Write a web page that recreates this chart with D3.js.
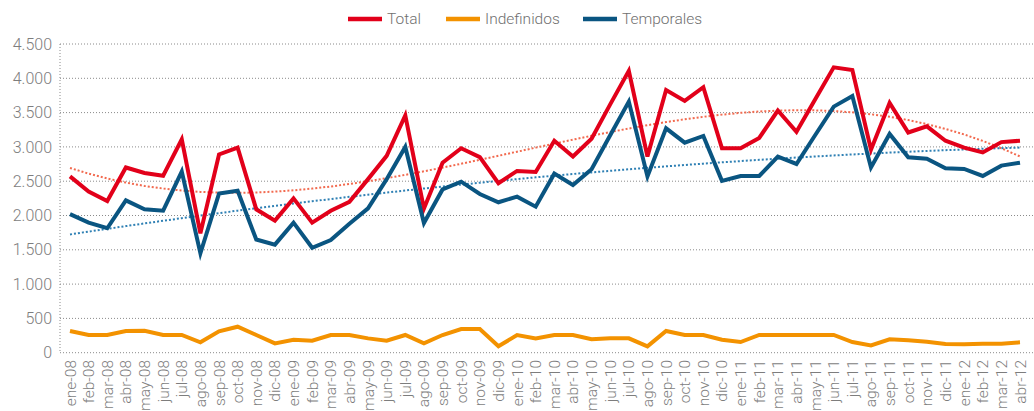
<!DOCTYPE html>
<html>
<head>
<meta charset="utf-8">
<script src="https://cdn.jsdelivr.net/npm/d3@7"></script>
<style>
  body { margin: 0; background: #fff; }
  svg text { font-family: Roboto, "Liberation Sans", sans-serif; font-weight: 300; }
</style>
</head>
<body>
<svg id="chart" width="1034" height="411"></svg>
<script>
// meses ene-08 .. abr-12
var months = [
  "ene-08","feb-08","mar-08","abr-08","may-08","jun-08","jul-08","ago-08","sep-08","oct-08","nov-08","dic-08",
  "ene-09","feb-09","mar-09","abr-09","may-09","jun-09","jul-09","ago-09","sep-09","oct-09","nov-09","dic-09",
  "ene-10","feb-10","mar-10","abr-10","may-10","jun-10","jul-10","ago-10","sep-10","oct-10","nov-10","dic-10",
  "ene-11","feb-11","mar-11","abr-11","may-11","jun-11","jul-11","ago-11","sep-11","oct-11","nov-11","dic-11",
  "ene-12","feb-12","mar-12","abr-12"
];

var total = [
  2570, 2350, 2210, 2700, 2620, 2580, 3110, 1740, 2890, 2990, 2090, 1925,
  2250, 1896, 2070, 2200, 2530, 2870, 3460, 2100, 2770, 2980, 2850, 2470,
  2650, 2635, 3090, 2860, 3120, 3620, 4110, 2860, 3830, 3670, 3870, 2980,
  2980, 3130, 3530, 3220, 3690, 4160, 4120, 2960, 3640, 3210, 3300, 3090,
  2990, 2920, 3070, 3090
];

var indefinidos = [
  316, 258, 258, 316, 321, 258, 258, 151, 311, 379, 258, 136,
  190, 175, 258, 258, 209, 175, 258, 136, 258, 345, 345, 93,
  258, 209, 258, 258, 195, 209, 209, 93, 316, 258, 258, 190,
  156, 258, 258, 258, 258, 258, 156, 107, 195, 180, 160, 126,
  122, 131, 131, 151
];

var temporales = [
  2020, 1896, 1814, 2220, 2090, 2070, 2640, 1450, 2320, 2360, 1650, 1575,
  1896, 1530, 1643, 1880, 2105, 2530, 3000, 1890, 2380, 2493, 2314, 2193,
  2275, 2129, 2610, 2445, 2674, 3170, 3660, 2570, 3271, 3062, 3160, 2505,
  2576, 2576, 2858, 2751, 3170, 3587, 3743, 2700, 3189, 2849, 2829, 2689,
  2678, 2576, 2727, 2770
];

var yTicks = [0, 500, 1000, 1500, 2000, 2500, 3000, 3500, 4000, 4500];

var series = [
  {name: "Total", values: total, color: "#e2001a", trend: 3, trendColor: "#f26a4f"},
  {name: "Indefinidos", values: indefinidos, color: "#f39200", trend: 0},
  {name: "Temporales", values: temporales, color: "#0a5581", trend: 2, trendColor: "#2f80b4"}
];

// least squares polynomial fit (like a spreadsheet trendline)
function polyfit(vals, deg) {
  var n = vals.length, m = deg + 1;
  var A = [], b = [];
  for (var r = 0; r < m; r++) { A.push(new Array(m).fill(0)); b.push(0); }
  vals.forEach(function (v, i) {
    var t = i / (n - 1);
    for (var r = 0; r < m; r++) {
      for (var c = 0; c < m; c++) A[r][c] += Math.pow(t, r + c);
      b[r] += v * Math.pow(t, r);
    }
  });
  for (var k = 0; k < m; k++) {
    for (var r2 = k + 1; r2 < m; r2++) {
      var f = A[r2][k] / A[k][k];
      for (var c2 = k; c2 < m; c2++) A[r2][c2] -= f * A[k][c2];
      b[r2] -= f * b[k];
    }
  }
  var coef = new Array(m).fill(0);
  for (var k2 = m - 1; k2 >= 0; k2--) {
    var s = b[k2];
    for (var c3 = k2 + 1; c3 < m; c3++) s -= A[k2][c3] * coef[c3];
    coef[k2] = s / A[k2][k2];
  }
  return vals.map(function (v, i) {
    var t = i / (n - 1), y = 0;
    for (var p = 0; p < m; p++) y += coef[p] * Math.pow(t, p);
    return y;
  });
}

var svg = d3.select("#chart");
var plotLeft = 60, plotTop = 44, plotBottom = 352.7;

var x = d3.scalePoint().domain(months).range([70, 1020]);
var y = d3.scaleLinear().domain([0, 4500]).range([plotBottom, plotTop]);

// gridlines
svg.append("g").selectAll("line").data(yTicks).join("line")
  .attr("x1", plotLeft).attr("x2", 1034)
  .attr("y1", function (d) { return y(d); })
  .attr("y2", function (d) { return y(d); })
  .attr("stroke", "#8a8a8a").attr("stroke-width", 1)
  .attr("stroke-dasharray", "1,2");

svg.append("line")
  .attr("x1", plotLeft).attr("x2", plotLeft).attr("y1", plotTop).attr("y2", plotBottom)
  .attr("stroke", "#8a8a8a").attr("stroke-dasharray", "1,2");

// y axis labels
var fmt = d3.formatLocale({decimal: ",", thousands: ".", grouping: [3], currency: ["", "€"]}).format(",");
svg.append("g").selectAll("text").data(yTicks).join("text")
  .attr("x", 52).attr("y", function (d) { return y(d); })
  .attr("dy", "0.35em")
  .attr("text-anchor", "end")
  .attr("font-size", 16)
  .attr("fill", "#7d7d7d")
  .text(function (d) { return fmt(d); });

// x axis labels
svg.append("g").selectAll("text").data(months).join("text")
  .attr("transform", function (d) { return "translate(" + (x(d) + 5.5) + "," + 360 + ") rotate(-90)"; })
  .attr("text-anchor", "end")
  .attr("font-size", 15.5)
  .attr("fill", "#7d7d7d")
  .text(function (d) { return d; });

var line = d3.line()
  .x(function (d, i) { return x(months[i]); })
  .y(function (d) { return y(d); });

// trendlines
series.filter(function (s) { return s.trend > 0; }).forEach(function (s) {
  svg.append("path")
    .attr("d", line(polyfit(s.values, s.trend)))
    .attr("fill", "none")
    .attr("stroke", s.trendColor)
    .attr("stroke-width", 2)
    .attr("stroke-dasharray", "2,2");
});

// series lines
series.forEach(function (s) {
  svg.append("path")
    .attr("d", line(s.values))
    .attr("fill", "none")
    .attr("stroke", s.color)
    .attr("stroke-width", 4)
    .attr("stroke-linejoin", "miter");
});

// legend
var legendX = [348, 446, 583];
var lg = svg.append("g").selectAll("g").data(series).join("g")
  .attr("transform", function (d, i) { return "translate(" + legendX[i] + ",19)"; });
lg.append("line").attr("x1", 0).attr("x2", 34).attr("y1", 0).attr("y2", 0)
  .attr("stroke", function (d) { return d.color; }).attr("stroke-width", 4.5);
lg.append("text").attr("x", 39).attr("dy", "0.35em")
  .attr("font-size", 15.5).attr("fill", "#707070")
  .text(function (d) { return d.name; });
</script>
</body>
</html>
